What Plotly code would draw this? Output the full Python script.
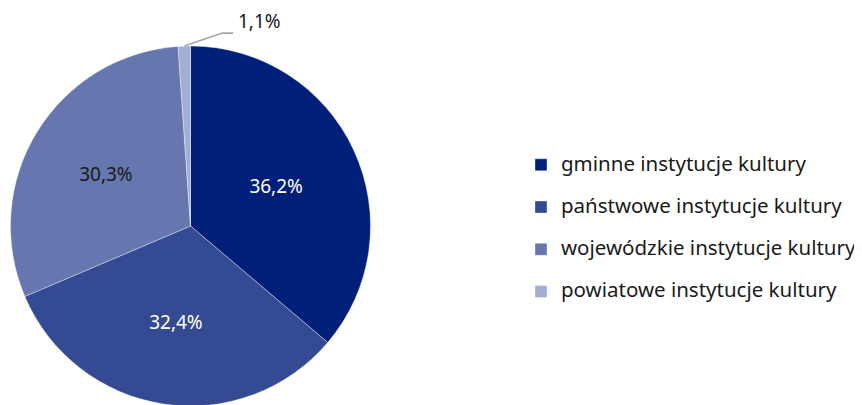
import math
import plotly.graph_objects as go

categories = ["gminne instytucje kultury", "państwowe instytucje kultury",
              "wojewódzkie instytucje kultury", "powiatowe instytucje kultury"]
values = [36.2, 32.4, 30.3, 1.1]
colors = ["#001f78", "#344a92", "#6577ae", "#a3aed3"]
text_colors = ["#ffffff", "#ffffff", "#1a1a1a", "#1a1a1a"]

W, H = 862, 405
FONT = "Noto Sans"
LABEL_SIZE = 19
LEGEND_SIZE = 20.5

# pie domain in pixels (left, right, top, bottom)
px_l, px_r, px_t, px_b = 2.5, 362.5, 38.0, 398.0
dom_x = [px_l / W, px_r / W]
dom_y = [1 - px_b / H, 1 - px_t / H]

texts = [f"{v:.1f}".replace(".", ",") + "%" for v in values]
inside_text = texts[:-1] + [""]

legend_labels = [f"<span style='font-size:{LEGEND_SIZE}px'>{c}</span><br>&nbsp;"
                 for c in categories]

fig = go.Figure(go.Pie(
    labels=legend_labels,
    values=values,
    text=inside_text,
    textinfo="text",
    textposition="inside",
    insidetextorientation="horizontal",
    sort=False,
    direction="clockwise",
    rotation=0,
    marker=dict(colors=colors, line=dict(color="rgba(255,255,255,0.6)", width=0.6)),
    textfont=dict(family=FONT, size=LABEL_SIZE, color=text_colors),
    domain=dict(x=dom_x, y=dom_y),
    hoverinfo="skip",
))

# leader line + label for the small slice, derived from its angle
total = sum(values)
start = sum(values[:-1]) / total * 360
mid = (start + 360) / 2
cx = (px_l + px_r) / 2
cy = (px_t + px_b) / 2
R = min(px_r - px_l, px_b - px_t) / 2
ex = cx + R * math.sin(math.radians(mid))
ey = cy - R * math.cos(math.radians(mid))
kx, ky = ex + 38, ey - 13
hx = kx + 11

def to_paper(x, y):
    return x / W, 1 - y / H

p0, p1, p2 = to_paper(ex, ey), to_paper(kx, ky), to_paper(hx, ky)
fig.add_shape(type="path", xref="paper", yref="paper",
              path=f"M{p0[0]},{p0[1]} L{p1[0]},{p1[1]} L{p2[0]},{p2[1]}",
              line=dict(color="#a6a6a6", width=1.6))
fig.add_annotation(xref="paper", yref="paper", x=p2[0] + 3 / W, y=p2[1] + 12 / H,
                   text=texts[-1], showarrow=False, xanchor="left", yanchor="middle",
                   font=dict(family=FONT, size=LABEL_SIZE, color="#1a1a1a"))

fig.update_layout(
    width=W, height=H,
    margin=dict(l=0, r=0, t=0, b=0),
    paper_bgcolor="white", plot_bgcolor="white",
    font=dict(family=FONT, size=17, color="#1a1a1a"),
    showlegend=True,
    legend=dict(x=513 / W, xanchor="left", y=1 - 140.5 / H, yanchor="top",
                font=dict(family=FONT, size=15.1, color="#1a1a1a"),
                valign="top", bgcolor="rgba(0,0,0,0)", borderwidth=0),
)

fig.write_html("out.html")
